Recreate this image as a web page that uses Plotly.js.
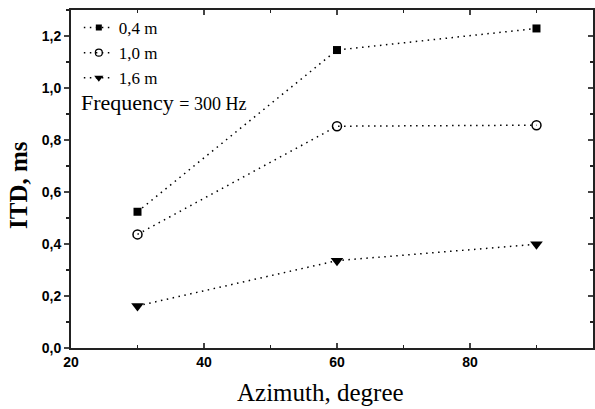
<!DOCTYPE html>
<html><head><meta charset="utf-8">
<script src="https://cdn.plot.ly/plotly-3.0.1.min.js"></script>
<style>html,body{margin:0;padding:0;background:#fff}</style>
</head><body><div id="chart" style="width:595px;height:409px"></div>
<script>
const azimuth = [30, 60, 90];
const itd04 = [0.524, 1.146, 1.229];
const itd10 = [0.437, 0.853, 0.857];
const itd16 = [0.162, 0.336, 0.399];
const seriesNames = ['0,4 m', '1,0 m', '1,6 m'];
const xTickVals = [20, 40, 60, 80];
const yTickVals = [0, 0.2, 0.4, 0.6, 0.8, 1.0, 1.2];
const yTickText = ['0,0', '0,2', '0,4', '0,6', '0,8', '1,0', '1,2'];

const serif = 'Liberation Serif';
const line = {color: '#000', dash: '1.5px,4.5px', width: 1.5};
const markers = [
  {symbol: 'square', size: 8, color: '#000'},
  {symbol: 'circle-open', size: 9, color: '#000', line: {width: 1.5, color: '#000'}},
  {symbol: 'triangle-down', size: 11, color: '#000'}
];
const legendMarkers = [
  {symbol: 'square', size: 6, color: '#000'},
  {symbol: 'circle-open', size: 7, color: '#000', line: {width: 1.2, color: '#000'}},
  {symbol: 'triangle-down', size: 8, color: '#000'}
];
const seriesY = [itd04, itd10, itd16];
const traces = [];
seriesY.forEach((ys, i) => {
  traces.push({x: azimuth, y: ys, name: seriesNames[i], mode: 'lines+markers', line: line,
    marker: markers[i], showlegend: false});
});
seriesY.forEach((ys, i) => {
  traces.push({x: [null], y: [null], name: seriesNames[i], mode: 'lines+markers', line: line,
    marker: legendMarkers[i], showlegend: true});
});
traces.push({x: [20], y: [0], yaxis: 'y2', mode: 'markers', marker: {opacity: 0}, showlegend: false, hoverinfo: 'skip'});

const tickFont = {family: 'Liberation Sans', size: 14, color: '#000', weight: 'bold'};
const layout = {
  width: 595, height: 409,
  margin: {l: 71, r: 2, t: 10, b: 61},
  paper_bgcolor: '#fff', plot_bgcolor: '#fff',
  font: {family: serif, color: '#000'},
  showlegend: true,
  legend: {x: 0.015, y: 1.0, xanchor: 'left', yanchor: 'top', bgcolor: 'rgba(0,0,0,0)',
    font: {family: serif, size: 17, color: '#000'}, tracegroupgap: 0, itemwidth: 30},
  xaxis: {range: [20, 98.5], tickvals: xTickVals, ticks: 'inside', ticklen: 5, tickwidth: 1.5,
    showline: true, linewidth: 2, linecolor: '#222', mirror: 'ticks', showgrid: false, zeroline: false,
    tickfont: tickFont, minor: {dtick: 10, tick0: 30, ticks: 'inside', ticklen: 3, tickwidth: 1.5, tickcolor: '#222'}},
  yaxis: {range: [0, 1.3], tickvals: yTickVals, ticktext: yTickText, ticks: 'outside', ticklen: 5, tickwidth: 1.5,
    showline: true, linewidth: 2, linecolor: '#222', mirror: true, showgrid: false, zeroline: false,
    tickfont: tickFont, minor: {dtick: 0.1, ticks: 'outside', ticklen: 3, tickwidth: 1.5, tickcolor: '#222'}},
  yaxis2: {range: [0, 1.3], overlaying: 'y', side: 'right', tickvals: yTickVals, showticklabels: false,
    ticks: 'inside', ticklen: 5, tickwidth: 1.5, showgrid: false, zeroline: false, showline: false,
    minor: {dtick: 0.1, ticks: 'inside', ticklen: 3, tickwidth: 1.5, tickcolor: '#222'}},
  annotations: [
    {xref: 'paper', yref: 'paper', x: (79 - 71) / 522, y: (348 - 103) / 338, xanchor: 'left', yanchor: 'middle', showarrow: false,
     text: 'Frequency <span style="font-size:18px">= 300 Hz</span>',
     font: {family: serif, size: 22, color: '#000'}},
    {xref: 'paper', yref: 'paper', x: (320 - 71) / 522, y: -(392 - 348) / 338, xanchor: 'center', yanchor: 'middle', showarrow: false,
     text: 'Azimuth, degree', font: {family: serif, size: 25, color: '#000'}},
    {xref: 'paper', yref: 'paper', x: (18 - 71) / 522, y: (348 - 185) / 338, xanchor: 'center', yanchor: 'middle', showarrow: false,
     textangle: -90, text: '<b>ITD, ms</b>', font: {family: serif, size: 25, color: '#000'}}
  ]
};
Plotly.newPlot('chart', traces, layout, {displayModeBar: false, staticPlot: true});
</script></body></html>
